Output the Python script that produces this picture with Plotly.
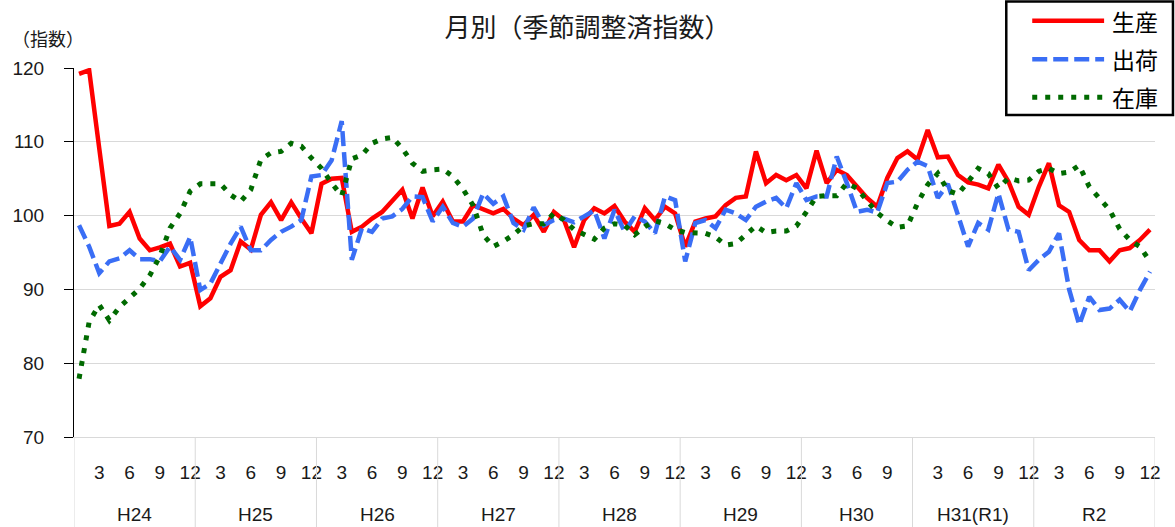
import plotly.graph_objects as go

# ---------------- data ----------------
years = ["H24", "H25", "H26", "H27", "H28", "H29", "H30", "H31(R1)", "R2"]
months_in_year = [
    list(range(1, 13)), list(range(1, 13)), list(range(1, 13)),
    list(range(1, 13)), list(range(1, 13)), list(range(1, 13)),
    list(range(1, 12)),
    list(range(1, 13)), list(range(1, 13)),
]

production = [
    119.2, 119.7, 109.1, 98.6, 98.9, 100.5, 96.9, 95.3, 95.7, 96.2, 93.1, 93.6,
    87.7, 88.8, 91.7, 92.6, 96.5, 95.4, 100.1, 101.8, 99.4, 101.8, 99.6, 97.6,
    104.3, 105.0, 105.1, 97.8, 98.5, 99.6, 100.5, 102.1, 103.5, 99.6, 103.8, 99.9,
    101.9, 99.2, 99.2, 101.4, 100.9, 100.3, 100.9, 99.6, 98.7, 100.1, 97.8, 100.5,
    99.4, 95.7, 99.4, 101.0, 100.3, 101.3, 99.2, 97.8, 101.0, 99.4, 101.2, 100.3,
    95.8, 99.2, 99.6, 99.9, 101.4, 102.4, 102.6, 108.7, 104.4, 105.5, 104.8, 105.5,
    103.7, 108.8, 104.4, 106.2, 105.5, 103.9, 102.4, 101.2, 105.1, 107.8, 108.7,
    107.6, 111.6, 107.9, 108.0, 105.5, 104.5, 104.2, 103.7, 106.9, 104.6, 101.2, 100.1,
    103.9, 107.1, 101.4, 100.5, 96.7, 95.3, 95.3, 93.8, 95.3, 95.6, 96.7, 98.1,
]

shipments = [
    98.7, 95.8, 92.2, 93.8, 94.2, 95.3, 94.1, 94.1, 93.8, 95.8, 94.0, 97.1,
    89.9, 90.8, 93.5, 96.2, 98.5, 95.3, 95.3, 96.7, 97.8, 98.5, 99.4, 105.3,
    105.5, 107.5, 112.8, 94.0, 98.3, 97.8, 99.6, 99.9, 100.9, 102.6, 102.5, 99.2,
    101.2, 99.0, 98.5, 99.6, 103.0, 101.6, 102.6, 99.0, 98.1, 101.1, 98.7, 99.4,
    99.6, 99.1, 99.9, 100.7, 96.9, 100.8, 97.8, 99.9, 99.2, 97.6, 102.6, 102.1,
    93.8, 99.0, 99.4, 98.3, 100.8, 100.3, 99.4, 101.2, 101.9, 102.4, 101.0, 104.4,
    102.1, 102.6, 102.6, 108.0, 104.4, 100.5, 100.8, 100.4, 104.4, 104.6, 106.2,
    107.3, 106.7, 102.4, 104.3, 99.9, 95.8, 99.0, 98.1, 103.0, 98.1, 97.8, 92.6,
    94.0, 95.1, 97.6, 90.0, 85.2, 89.0, 87.2, 87.4, 88.6, 87.0, 89.9, 92.4,
]

inventory = [
    77.9, 85.6, 87.9, 85.8, 87.6, 88.8, 90.1, 91.9, 94.5, 98.3, 100.3, 103.3,
    104.3, 104.3, 104.3, 102.8, 101.9, 103.5, 107.6, 108.5, 108.7, 109.8, 109.4, 107.8,
    106.4, 104.4, 102.7, 107.7, 108.2, 109.8, 110.4, 110.6, 109.1, 107.1, 106.0, 106.2,
    106.3, 105.3, 103.6, 101.4, 97.4, 95.8, 96.5, 97.4, 98.6, 98.9, 98.9, 100.3,
    99.4, 98.1, 97.5, 96.8, 98.3, 98.9, 98.7, 97.4, 98.5, 99.3, 98.9, 98.1,
    97.7, 97.6, 97.6, 97.1, 96.0, 96.2, 97.3, 98.6, 97.7, 97.9, 97.9, 98.6,
    100.5, 102.6, 102.7, 102.7, 104.4, 103.7, 102.0, 100.4, 99.3, 98.4, 98.6,
    101.7, 104.2, 105.7, 103.4, 102.9, 104.6, 106.4, 105.7, 103.7, 105.1, 104.7, 104.8,
    106.0, 106.4, 105.7, 105.9, 106.8, 103.9, 102.4, 100.8, 98.2, 96.7, 95.8, 93.8,
]

series_names = ["生産", "出荷", "在庫"]
y_ticks = [70, 80, 90, 100, 110, 120]

# ---------------- layout helpers ----------------
W, H = 1175, 527
ML, MR, MT, MB = 72, 20, 68, 90
PW, PH = W - ML - MR, H - MT - MB


def fx(px):
    return (px - ML) / PW


def fy(py):
    return (H - MB - py) / PH


JP = "Noto Sans CJK JP"
NUM = "Liberation Sans"
TXT = "#1a1a1a"

month_seq = [m for ms in months_in_year for m in ms]
x_idx = list(range(len(month_seq)))
tickvals = [i for i, m in enumerate(month_seq) if m % 3 == 0]
ticktext = [str(month_seq[i]) for i in tickvals]

colors = ["#FF0000", "#3A6EF5", "#006A00"]
dashes = ["solid", "15px,6px", "5px,8px"]
widths = [4.5, 4.5, 5]

fig = go.Figure()
for name, vals, c, d, w in zip(series_names, [production, shipments, inventory], colors, dashes, widths):
    fig.add_trace(go.Scatter(
        x=x_idx, y=vals, mode="lines", name=name,
        line=dict(color=c, width=w, dash=d), showlegend=False,
    ))

shapes = []
annotations = []

# year separators and year labels
start = 0
bounds = [-0.5]
for yname, ms in zip(years, months_in_year):
    n = len(ms)
    bounds.append(start + n - 0.5)
    annotations.append(dict(
        x=start + (n - 1) / 2, y=fy(514), xref="x", yref="paper",
        text=yname, showarrow=False, font=dict(family=NUM, size=19, color=TXT),
        xanchor="center", yanchor="middle",
    ))
    start += n
for b in bounds:
    shapes.append(dict(type="line", xref="x", yref="paper", x0=b, x1=b,
                       y0=0, y1=fy(H), line=dict(color="#d9d9d9", width=1)))

# legend box
shapes.append(dict(type="rect", xref="paper", yref="paper",
                   x0=fx(1006), x1=fx(1173), y0=fy(115), y1=fy(1.5),
                   line=dict(color="black", width=2.5), fillcolor="white", layer="above"))
leg_y = [20.7, 59.3, 97.3]
for name, c, d, w, ly in zip(series_names, colors, dashes, widths, leg_y):
    shapes.append(dict(type="line", xref="paper", yref="paper",
                       x0=fx(1032), x1=fx(1104), y0=fy(ly), y1=fy(ly),
                       line=dict(color=c, width=w, dash=d), layer="above"))
    annotations.append(dict(x=fx(1110), y=fy(ly), xref="paper", yref="paper",
                            text=name, showarrow=False, xanchor="left", yanchor="middle",
                            font=dict(family=JP, size=23, color="black")))

annotations.append(dict(x=fx(8), y=fy(38), xref="paper", yref="paper",
                        text="（指数）", showarrow=False, xanchor="left", yanchor="middle",
                        font=dict(family=JP, size=18, color=TXT)))

fig.update_layout(
    width=W, height=H,
    margin=dict(l=ML, r=MR, t=MT, b=MB, pad=0),
    paper_bgcolor="white", plot_bgcolor="white",
    title=dict(text="月別（季節調整済指数）", x=0.5, xref="container",
               y=1 - 28 / H, yref="container", xanchor="center", yanchor="middle",
               font=dict(family=JP, size=26, color=TXT)),
    xaxis=dict(range=[-0.5, len(month_seq) - 0.5], tickmode="array",
               tickvals=tickvals, ticktext=ticktext, showgrid=False,
               showline=True, linecolor="#d9d9d9", linewidth=1, ticks="",
               ticklabelstandoff=18, tickfont=dict(family=NUM, size=19, color=TXT),
               zeroline=False, fixedrange=True),
    yaxis=dict(range=[70, 120], tickmode="array", tickvals=y_ticks,
               ticktext=[str(v) for v in y_ticks],
               showgrid=True, gridcolor="#d9d9d9", gridwidth=1,
               showline=True, linecolor="black", linewidth=1,
               ticks="outside", ticklen=9, tickcolor="black",
               ticklabelstandoff=16, tickfont=dict(family=NUM, size=19, color=TXT),
               zeroline=False, fixedrange=True),
    shapes=shapes, annotations=annotations, showlegend=False,
)

fig.write_html(
    "out.html",
    config={"displayModeBar": False},
    post_script="document.body.style.margin='0';document.body.style.overflow='hidden';",
)
